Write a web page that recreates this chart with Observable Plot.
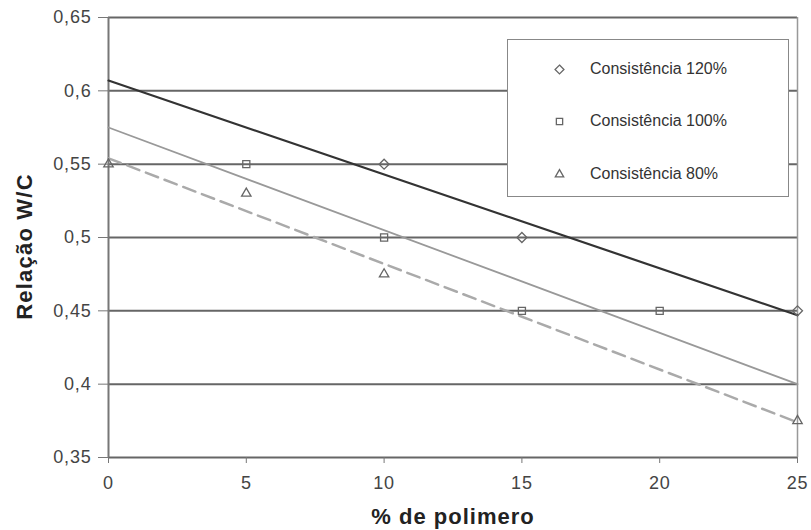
<!DOCTYPE html>
<html>
<head>
<meta charset="utf-8">
<script src="https://cdn.jsdelivr.net/npm/d3@7"></script>
<script src="https://cdn.jsdelivr.net/npm/@observablehq/plot@0.6"></script>
<style>
  html, body { margin: 0; padding: 0; background: #fff; }
  #wrap { position: relative; width: 811px; height: 530px; font-family: "Liberation Sans", Arial, sans-serif; }
  #wrap > svg { position: absolute; left: 0; top: 0; }
  g[aria-label="y-axis tick label"] text, g[aria-label="x-axis tick label"] text {
    font-size: 18px; letter-spacing: 0.8px; fill: #444;
  }
  g[aria-label="x-axis label"] text {
    font-size: 22px; font-weight: bold; letter-spacing: 1px; fill: #222;
  }
  g[aria-label="text"] text { letter-spacing: 1.2px; }
  #legend {
    position: absolute; left: 507px; top: 39px; width: 280px; height: 156px;
    border: 1.5px solid #888; background: #fff; box-sizing: content-box;
  }
  .row { position: absolute; left: 0; height: 20px; display: flex; align-items: center; }
  .row svg { display: block; margin-left: 44px; }
  .row span { margin-left: 24px; font-size: 16px; color: #333; white-space: nowrap; }
</style>
</head>
<body>
<div id="wrap"></div>
<script>
// Data
const xTicks = [0, 5, 10, 15, 20, 25];
const yTicks = [0.35, 0.4, 0.45, 0.5, 0.55, 0.6, 0.65];
const seriesNames = ["Consistência 120%", "Consistência 100%", "Consistência 80%"];
const xTitle = "% de polimero";
const yTitle = "Relação W/C";

const pol120 = [10, 15, 25];
const wc120  = [0.55, 0.50, 0.45];
const pol100 = [5, 10, 15, 20];
const wc100  = [0.55, 0.50, 0.45, 0.45];
const pol80  = [0, 5, 10, 25];
const wc80   = [0.55, 0.53, 0.475, 0.375];

// Trend line end points
const trendX   = [0, 25];
const trend120 = [0.607, 0.447];
const trend100 = [0.575, 0.400];
const trend80  = [0.554, 0.374];

const pts = (xs, ys) => xs.map((x, i) => ({x, y: ys[i]}));
const fmt = d => String(d).replace(".", ",");

const chart = Plot.plot({
  width: 811,
  height: 530,
  marginLeft: 108,
  marginRight: 14,
  marginTop: 17,
  marginBottom: 73,
  style: {fontFamily: "'Liberation Sans', Arial, sans-serif", background: "transparent", overflow: "visible"},
  x: {domain: [0, 25]},
  y: {domain: [0.35, 0.65]},
  marks: [
    Plot.ruleY(yTicks, {stroke: "#666", strokeWidth: 2}),
    Plot.ruleX([25], {stroke: "#999", strokeWidth: 1.5}),
    Plot.ruleX([0], {stroke: "#777", strokeWidth: 2}),
    Plot.axisY({ticks: yTicks, tickFormat: fmt, tickSize: 10, tickPadding: 7, stroke: "#777", label: null}),
    Plot.axisX({ticks: xTicks, tickSize: 6, tickPadding: 13, stroke: "#777",
      label: xTitle, labelAnchor: "center", labelArrow: "none", labelOffset: 66}),
    Plot.text([yTitle], {frameAnchor: "left", textAnchor: "middle", lineAnchor: "middle", text: d => d,
      rotate: -90, dx: -84, dy: 9, fontSize: 22, fontWeight: "bold", fill: "#222"}),
    Plot.line(pts(trendX, trend80), {x: "x", y: "y", stroke: "#aaa", strokeWidth: 2.5, strokeDasharray: "13,7"}),
    Plot.line(pts(trendX, trend100), {x: "x", y: "y", stroke: "#999", strokeWidth: 1.8}),
    Plot.line(pts(trendX, trend120), {x: "x", y: "y", stroke: "#333", strokeWidth: 2.2}),
    Plot.dot(pts(pol120, wc120), {x: "x", y: "y", symbol: "diamond2", r: 4.5, stroke: "#666", strokeWidth: 1.3, fill: "none"}),
    Plot.dot(pts(pol100, wc100), {x: "x", y: "y", symbol: "square2", r: 4.5, stroke: "#666", strokeWidth: 1.3, fill: "none"}),
    Plot.dot(pts(pol80, wc80), {x: "x", y: "y", symbol: "triangle2", r: 4.5, stroke: "#666", strokeWidth: 1.3, fill: "none"})
  ]
});

const wrap = document.getElementById("wrap");
wrap.appendChild(chart);

// Legend
const symbols = ["diamond2", "square2", "triangle2"];
const rowTops = [19, 71, 124];
const legend = document.createElement("div");
legend.id = "legend";
seriesNames.forEach((name, i) => {
  const row = document.createElement("div");
  row.className = "row";
  row.style.top = rowTops[i] + "px";
  const sym = Plot.plot({
    width: 14, height: 14, margin: 0,
    x: {domain: [0, 1], axis: null}, y: {domain: [0, 1], axis: null},
    marks: [Plot.dot([{x: 0.5, y: 0.5}], {x: "x", y: "y", symbol: symbols[i], r: 4, stroke: "#666", strokeWidth: 1.3, fill: "none"})]
  });
  row.appendChild(sym);
  const span = document.createElement("span");
  span.textContent = name;
  row.appendChild(span);
  legend.appendChild(row);
});
wrap.appendChild(legend);
</script>
</body>
</html>
